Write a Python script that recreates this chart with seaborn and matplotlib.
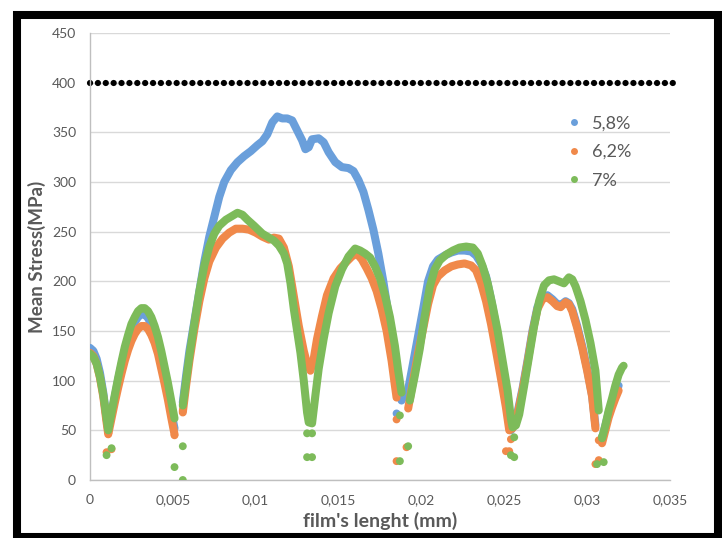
import pandas as pd
import numpy as np
import matplotlib
matplotlib.use('Agg')
import matplotlib.pyplot as plt
from matplotlib.ticker import MultipleLocator, FuncFormatter
from matplotlib.lines import Line2D
from matplotlib.patches import Rectangle
import seaborn as sns

# --- data (x in mm, y in MPa) ---
SERIES = ['5,8%', '6,2%', '7%']
COLORS = {'5,8%': '#6A9FDB', '6,2%': '#F0894A', '7%': '#7DBB5A'}

# first arc, same x for all three series
arc1_x = [0, 0.0002, 0.0004, 0.0006, 0.0008, 0.0010, 0.0011, 0.0012, 0.0013, 0.0015, 0.0017, 0.0019, 0.0021,
          0.0023, 0.0025, 0.0027, 0.0029, 0.0031, 0.0033, 0.0035, 0.0037, 0.0039, 0.0041, 0.0043, 0.0045,
          0.0047, 0.0049, 0.0051]
blue_seg1_y = [133, 130, 122, 108, 88, 62, 50, 59, 67, 84, 101, 116, 130, 141, 151, 159, 164, 167, 167, 163,
               157, 148, 137, 122, 105, 88, 69, 52]
orange_seg1_y = [128, 125, 117, 103, 84, 58, 46, 54, 62, 78, 93, 107, 120, 131, 140, 147, 152, 155, 155, 152,
                 146, 138, 127, 112, 97, 81, 63, 46]
green_seg1_y = [127, 124, 117, 104, 86, 62, 50, 59, 68, 86, 103, 119, 134, 146, 157, 164, 170, 173, 173, 170,
                164, 155, 144, 130, 114, 98, 80, 62]

blue_seg2_x = [0.0056, 0.0058, 0.0060, 0.0063, 0.0066, 0.0069, 0.0072, 0.0075, 0.0078, 0.0081, 0.0085, 0.0089,
               0.0093, 0.0097, 0.0101, 0.0104, 0.0107, 0.0110, 0.0113, 0.0116, 0.0119, 0.0122, 0.0125, 0.0128,
               0.0130, 0.0132, 0.0134, 0.0138, 0.0141, 0.0144, 0.0148, 0.0152, 0.0156, 0.0159, 0.0162, 0.0165,
               0.0168, 0.0171, 0.0174, 0.0177, 0.0180, 0.0183, 0.0186, 0.0188]
blue_seg2_y = [78, 105, 130, 160, 190, 220, 245, 265, 285, 300, 312, 320, 326, 331, 337, 341, 348, 360, 366, 364,
               364, 362, 352, 342, 333, 335, 343, 344, 340, 330, 320, 315, 314, 311, 302, 290, 272, 252, 228, 200,
               168, 132, 98, 80]
blue_seg3_x = [0.0191, 0.0193, 0.0195, 0.0198, 0.0201, 0.0204, 0.0207, 0.0210, 0.0214, 0.0218, 0.0222, 0.0226,
               0.0230, 0.0233, 0.0236, 0.0239, 0.0242, 0.0245, 0.0248, 0.0251, 0.0253, 0.0254, 0.0256, 0.0258,
               0.0261, 0.0264, 0.0267, 0.0270, 0.0273, 0.0276, 0.0279, 0.0282, 0.0284, 0.0287, 0.0289, 0.0291,
               0.0294, 0.0297, 0.0300, 0.0303, 0.0305]
blue_seg3_y = [83, 100, 118, 145, 172, 200, 215, 222, 226, 229, 231, 231, 230, 226, 218, 205, 182, 155, 125, 92,
               60, 50, 56, 68, 92, 120, 150, 174, 184, 186, 182, 177, 176, 180, 178, 172, 155, 135, 112, 85, 55]
blue_seg4_x = [0.0309, 0.0311, 0.0313, 0.0315, 0.0317, 0.0319]
blue_seg4_y = [42, 55, 68, 78, 88, 95]

orange_seg2_x = [0.0056, 0.0058, 0.0060, 0.0063, 0.0066, 0.0069, 0.0072, 0.0076, 0.0080, 0.0084, 0.0088, 0.0092,
                 0.0096, 0.0100, 0.0104, 0.0108, 0.0111, 0.0114, 0.0117, 0.0120, 0.0123, 0.0126, 0.0129, 0.0131,
                 0.0133, 0.0135, 0.0137, 0.0140, 0.0143, 0.0147, 0.0151, 0.0155, 0.0158, 0.0161, 0.0164, 0.0167,
                 0.0170, 0.0173, 0.0176, 0.0179, 0.0182, 0.0184, 0.0185]
orange_seg2_y = [68, 95, 120, 152, 180, 203, 220, 234, 243, 249, 253, 253, 252, 249, 245, 242, 244, 243, 234, 215,
                 185, 155, 130, 117, 110, 122, 142, 165, 186, 203, 213, 220, 225, 228, 222, 213, 203, 190, 172, 150,
                 120, 95, 83]
orange_seg3_x = [0.0192, 0.0195, 0.0198, 0.0201, 0.0204, 0.0207, 0.0210, 0.0214, 0.0218, 0.0222, 0.0226, 0.0230,
                 0.0233, 0.0236, 0.0239, 0.0242, 0.0245, 0.0248, 0.0251, 0.0253, 0.0255, 0.0258, 0.0261, 0.0264,
                 0.0267, 0.0270, 0.0273, 0.0276, 0.0279, 0.0282, 0.0284, 0.0287, 0.0289, 0.0291, 0.0294, 0.0297,
                 0.0300, 0.0303, 0.0305]
orange_seg3_y = [72, 100, 128, 152, 177, 196, 205, 211, 215, 217, 218, 216, 211, 198, 180, 157, 130, 102, 73, 50,
                 52, 66, 90, 118, 148, 172, 182, 184, 180, 175, 174, 179, 177, 170, 153, 133, 110, 84, 52]
orange_seg4_x = [0.0309, 0.0311, 0.0313, 0.0315, 0.0317, 0.0319]
orange_seg4_y = [37, 50, 63, 73, 82, 90]

green_seg2_x = [0.0056, 0.0058, 0.0060, 0.0063, 0.0066, 0.0069, 0.0072, 0.0075, 0.0078, 0.0082, 0.0086, 0.0089,
                0.0092, 0.0095, 0.0099, 0.0104, 0.0108, 0.0111, 0.0114, 0.0117, 0.0119, 0.0121, 0.0123, 0.0125,
                0.0127, 0.0129, 0.0131, 0.0132, 0.0134, 0.0136, 0.0138, 0.0141, 0.0144, 0.0148, 0.0152, 0.0156,
                0.0160, 0.0163, 0.0166, 0.0169, 0.0172, 0.0175, 0.0178, 0.0181, 0.0184, 0.0186, 0.0188]
green_seg2_y = [75, 100, 125, 158, 190, 216, 235, 248, 256, 262, 266, 269, 267, 262, 256, 248, 244, 241, 236, 228,
                218, 198, 172, 150, 128, 100, 68, 58, 57, 85, 112, 142, 168, 195, 212, 225, 233, 231, 228, 224,
                215, 203, 186, 164, 135, 110, 88]
green_seg3_x = [0.0193, 0.0196, 0.0199, 0.0202, 0.0205, 0.0208, 0.0211, 0.0215, 0.0219, 0.0223, 0.0227, 0.0231,
                0.0234, 0.0237, 0.0240, 0.0243, 0.0246, 0.0249, 0.0252, 0.0254, 0.0255, 0.0257, 0.0259, 0.0262,
                0.0265, 0.0268, 0.0271, 0.0274, 0.0277, 0.0280, 0.0283, 0.0286, 0.0289, 0.0291, 0.0293, 0.0296,
                0.0299, 0.0302, 0.0305, 0.0307]
green_seg3_y = [80, 105, 132, 165, 194, 212, 221, 227, 231, 234, 235, 234, 228, 215, 198, 175, 150, 120, 90, 62,
                53, 55, 66, 95, 125, 155, 180, 196, 201, 202, 200, 198, 204, 202, 195, 180, 161, 138, 110, 70]
green_seg4_x = [0.0309, 0.0311, 0.0313, 0.0315, 0.0317, 0.0319, 0.0321, 0.0322]
green_seg4_y = [42, 55, 70, 82, 95, 106, 113, 115]

# stray points below the bands
blue_dots_x = [0.0185]
blue_dots_y = [67]
orange_dots_x = [0.0010, 0.0013, 0.0051, 0.0056, 0.0185, 0.0185, 0.0191, 0.0251, 0.0253, 0.0254, 0.0305, 0.0307, 0.0307]
orange_dots_y = [28, 31, 45, 70, 61, 19, 33, 29, 29, 41, 16, 20, 40]
green_dots_x = [0.0010, 0.0013, 0.0051, 0.0056, 0.0056, 0.0131, 0.0134, 0.0131, 0.0134, 0.0187, 0.0187, 0.0192,
                0.0254, 0.0256, 0.0256, 0.0306, 0.0310, 0.0309]
green_dots_y = [25, 32, 13, 0, 34, 47, 47, 23, 23, 65, 19, 34, 25, 23, 43, 16, 18, 44]

LIMIT_Y = 400

X_TICKS = [0, 0.005, 0.01, 0.015, 0.02, 0.025, 0.03, 0.035]
Y_TICKS = [0, 50, 100, 150, 200, 250, 300, 350, 400, 450]

GRAY_TEXT = '#595959'
GRID = '#D9D9D9'


def build_frames():
    rows = []
    segs = {
        '5,8%': [(arc1_x, blue_seg1_y), (blue_seg2_x, blue_seg2_y), (blue_seg3_x, blue_seg3_y), (blue_seg4_x, blue_seg4_y)],
        '6,2%': [(arc1_x, orange_seg1_y), (orange_seg2_x, orange_seg2_y), (orange_seg3_x, orange_seg3_y), (orange_seg4_x, orange_seg4_y)],
        '7%': [(arc1_x, green_seg1_y), (green_seg2_x, green_seg2_y), (green_seg3_x, green_seg3_y), (green_seg4_x, green_seg4_y)],
    }
    for name, parts in segs.items():
        for i, (xs, ys) in enumerate(parts):
            for x, y in zip(xs, ys):
                rows.append({'x': x, 'y': y, 'series': name, 'seg': f'{name}-{i}'})
    bands = pd.DataFrame(rows)

    dots = pd.concat([
        pd.DataFrame({'x': blue_dots_x, 'y': blue_dots_y, 'series': '5,8%'}),
        pd.DataFrame({'x': orange_dots_x, 'y': orange_dots_y, 'series': '6,2%'}),
        pd.DataFrame({'x': green_dots_x, 'y': green_dots_y, 'series': '7%'}),
    ], ignore_index=True)
    return bands, dots


def main():
    sns.set_style('white')
    plt.rcParams['font.family'] = ['Lato', 'DejaVu Sans']

    bands, dots = build_frames()

    fig = plt.figure(figsize=(7.22, 5.38), dpi=100)
    ax = fig.add_axes([90 / 722, 1 - 480 / 538, 580 / 722, 447 / 538])

    ax.yaxis.grid(True, color=GRID, linewidth=1)
    ax.set_axisbelow(True)

    # dotted limit line at 400
    ax.axhline(LIMIT_Y, color='black', linewidth=4.5, linestyle=(0, (0.01, 1.25)),
               dash_capstyle='round', zorder=2, xmax=1.01, clip_on=False)

    for name in SERIES:
        sub = bands[bands['series'] == name]
        sns.lineplot(data=sub, x='x', y='y', units='seg', estimator=None, sort=False,
                     color=COLORS[name], linewidth=5.8, ax=ax, legend=False,
                     solid_capstyle='round', solid_joinstyle='round', zorder=3)
        sd = dots[dots['series'] == name]
        sns.scatterplot(data=sd, x='x', y='y', color=COLORS[name], s=32,
                        edgecolor='none', ax=ax, legend=False, zorder=3)

    ax.set_xlim(0, 0.035)
    ax.set_ylim(0, 450)
    ax.set_xticks(X_TICKS)
    ax.set_yticks(Y_TICKS)
    ax.xaxis.set_minor_locator(MultipleLocator(0.001))
    ax.yaxis.set_minor_locator(MultipleLocator(10))
    ax.xaxis.set_major_formatter(FuncFormatter(lambda v, p: ('%g' % round(v, 4)).replace('.', ',')))

    for s in ['top', 'right']:
        ax.spines[s].set_visible(False)
    for s in ['left', 'bottom']:
        ax.spines[s].set_color('#BFBFBF')
        ax.spines[s].set_linewidth(1)

    ax.tick_params(axis='both', which='both', colors='#BFBFBF', labelcolor=GRAY_TEXT,
                   labelsize=10, direction='out')
    ax.tick_params(axis='both', which='major', length=4)
    ax.tick_params(axis='both', which='minor', length=3)
    ax.tick_params(axis='x', pad=6)
    ax.tick_params(axis='y', pad=6)

    ax.set_xlabel("film's lenght (mm)", fontsize=14, fontweight='bold', color=GRAY_TEXT, labelpad=4)
    ax.set_ylabel('Mean Stress(MPa)', fontsize=13.5, fontweight='bold', color=GRAY_TEXT, labelpad=4)

    handles = [Line2D([], [], linestyle='none', marker='o', markersize=5,
                      markerfacecolor=COLORS[n], markeredgecolor='none') for n in SERIES]
    leg = ax.legend(handles, SERIES, loc='upper left', bbox_to_anchor=(0.81, 0.832),
                    frameon=False, fontsize=13, handlelength=0.8, handletextpad=0.6,
                    labelspacing=0.7, borderaxespad=0)
    for t in leg.get_texts():
        t.set_color(GRAY_TEXT)

    # black picture frame
    fig.patches.append(Rectangle((17 / 722, 1 - 537 / 538), (717.5 - 17) / 722, (537 - 15) / 538,
                                 transform=fig.transFigure, fill=False, edgecolor='black',
                                 linewidth=5.8, zorder=10))

    fig.savefig('out.png', dpi=100, facecolor='white')


if __name__ == '__main__':
    main()
